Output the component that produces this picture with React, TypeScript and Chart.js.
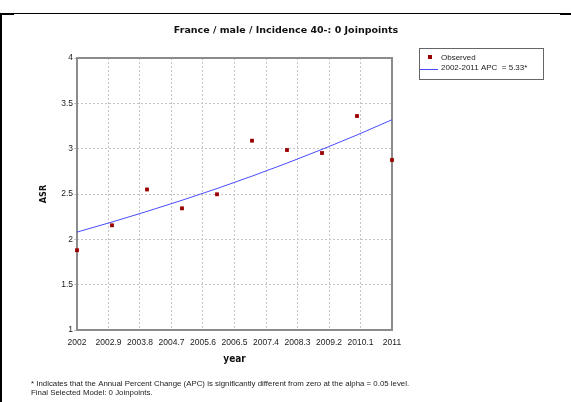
import React, { useEffect, useRef } from "react";
import { Chart, registerables } from "chart.js";

Chart.register(...registerables);

const years = [2002, 2003, 2004, 2005, 2006, 2007, 2008, 2009, 2010, 2011];
const observed = [1.88, 2.155, 2.55, 2.342, 2.497, 3.088, 2.985, 2.952, 3.36, 2.875];
const fitted = [2.08, 2.191, 2.308, 2.431, 2.56, 2.697, 2.841, 2.992, 3.151, 3.319];
const xTicks = [2002, 2002.9, 2003.8, 2004.7, 2005.6, 2006.5, 2007.4, 2008.3, 2009.2, 2010.1, 2011];
const xTickLabels = ["2002", "2002.9", "2003.8", "2004.7", "2005.6", "2006.5", "2007.4", "2008.3", "2009.2", "2010.1", "2011"];
const yTicks = [1, 1.5, 2, 2.5, 3, 3.5, 4];
const yTickLabels = ["1", "1.5", "2", "2.5", "3", "3.5", "4"];
const titleText = "France / male / Incidence 40-: 0 Joinpoints";
const xTitle = "year";
const yTitle = "ASR";
const legendLabels = ["Observed", "2002-2011 APC  = 5.33*"];
const footnotes = [
  "* Indicates that the Annual Percent Change (APC) is significantly different from zero at the alpha = 0.05 level.",
  "Final Selected Model: 0 Joinpoints.",
];

const RED = "#990000";
const BLUE = "#4a4aff";
const SANS = "'Liberation Sans', Arial, sans-serif";
const BOLD = "'DejaVu Sans', sans-serif";
const BOLDC = "'DejaVu Sans Condensed', 'DejaVu Sans', sans-serif";

const decor = {
  id: "decor",
  beforeDatasetsDraw(chart: any) {
    const { ctx, chartArea: a } = chart;
    ctx.save();
    ctx.strokeStyle = "#8c8c8c";
    ctx.lineWidth = 2;
    ctx.strokeRect(a.left, a.top, a.right - a.left, a.bottom - a.top);
    ctx.restore();
  },
  afterDraw(chart: any) {
    const { ctx, chartArea: a } = chart;
    ctx.save();
    // page frame
    ctx.fillStyle = "#000";
    ctx.fillRect(0, 13, 571, 1);
    ctx.fillRect(0, 13, 14, 2);
    ctx.fillRect(560, 13, 11, 2);
    ctx.fillRect(0, 13, 2, 389);

    // title
    ctx.fillStyle = "#111";
    ctx.font = `bold 9.5px ${BOLD}`;
    ctx.textAlign = "center";
    ctx.textBaseline = "middle";
    ctx.fillText(titleText, 286, 31);

    // axis titles
    ctx.font = `bold 10px ${BOLDC}`;
    ctx.fillText(xTitle, (a.left + a.right) / 2, 359);
    ctx.save();
    ctx.translate(44, (a.top + a.bottom) / 2);
    ctx.rotate(-Math.PI / 2);
    ctx.font = `bold 9px ${BOLDC}`;
    ctx.fillText(yTitle, 0, 0);
    ctx.restore();

    // legend
    ctx.strokeStyle = "#666";
    ctx.lineWidth = 1;
    ctx.strokeRect(419.5, 48.5, 124, 31);
    ctx.fillStyle = RED;
    ctx.fillRect(428, 55, 4, 4);
    ctx.strokeStyle = BLUE;
    ctx.beginPath();
    ctx.moveTo(420, 69.5);
    ctx.lineTo(438, 69.5);
    ctx.stroke();
    ctx.fillStyle = "#222";
    ctx.font = `8px ${SANS}`;
    ctx.textAlign = "left";
    ctx.fillText(legendLabels[0], 441, 58);
    ctx.fillText(legendLabels[1], 441, 68);

    // footnotes
    ctx.font = `7.85px ${SANS}`;
    ctx.fillText(footnotes[0], 31, 384);
    ctx.fillText(footnotes[1], 31, 393);
    ctx.restore();
  },
};

export default function App() {
  const ref = useRef<HTMLCanvasElement>(null);
  useEffect(() => {
    const chart = new Chart(ref.current!, {
      type: "scatter",
      data: {
        datasets: [
          {
            label: legendLabels[0],
            data: years.map((y, i) => ({ x: y, y: observed[i] })),
            backgroundColor: RED,
            borderColor: RED,
            pointStyle: "rect",
            pointRadius: 2.7,
            borderWidth: 0,
            clip: false,
            order: 0,
          },
          {
            type: "line",
            label: legendLabels[1],
            data: years.map((y, i) => ({ x: y, y: fitted[i] })),
            borderColor: BLUE,
            borderWidth: 1,
            pointRadius: 0,
            fill: false,
            tension: 0,
            order: 1,
          } as any,
        ],
      },
      options: {
        animation: false,
        responsive: false,
        layout: { padding: { left: 0, top: 58, right: 179, bottom: 0 } },
        plugins: { legend: { display: false }, tooltip: { enabled: false }, title: { display: false } },
        scales: {
          x: {
            type: "linear",
            min: 2002,
            max: 2011,
            afterBuildTicks: (s: any) => {
              s.ticks = xTicks.map((v) => ({ value: v }));
            },
            afterFit: (s: any) => {
              s.height = 72;
            },
            ticks: {
              autoSkip: false,
              maxRotation: 0,
              padding: 8,
              color: "#222",
              font: { family: SANS, size: 8.5 },
              callback: (v: any, i: number) => xTickLabels[i],
            },
            grid: { color: "#c4c4c4", drawTicks: false, lineWidth: 1 },
            border: { display: false, dash: [2, 2] },
          },
          y: {
            type: "linear",
            min: 1,
            max: 4,
            afterBuildTicks: (s: any) => {
              s.ticks = yTicks.map((v) => ({ value: v }));
            },
            afterFit: (s: any) => {
              s.width = 77;
            },
            ticks: {
              padding: 1,
              color: "#222",
              font: { family: SANS, size: 8.5 },
              callback: (v: any, i: number) => yTickLabels[i],
            },
            grid: { color: "#c4c4c4", drawTicks: true, tickLength: 3, lineWidth: 1 },
            border: { display: false, dash: [2, 2] },
          },
        },
      },
      plugins: [decor],
    });
    return () => chart.destroy();
  }, []);
  return (
    <div style={{ position: "absolute", left: 0, top: 0, width: 571, height: 402, background: "#fff" }}>
      <canvas ref={ref} width={571} height={402} style={{ display: "block" }} />
    </div>
  );
}
